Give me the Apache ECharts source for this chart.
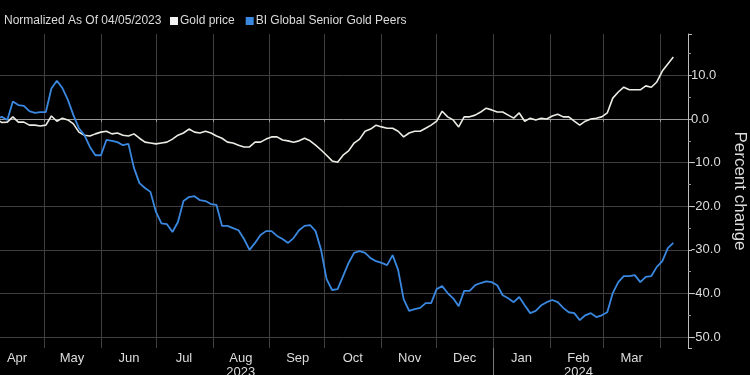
<!DOCTYPE html>
<html>
<head>
<meta charset="utf-8">
<script src="https://cdn.jsdelivr.net/npm/echarts@6/dist/echarts.min.js"></script>
<style>
  html, body { margin: 0; padding: 0; background: #000; }
  #chart { width: 750px; height: 375px; }
</style>
</head>
<body>
<div id="chart"></div>
<script>
// sample dates (every 3 days from the normalization date)
const dates = [
  '2023-04-05','2023-04-08','2023-04-11','2023-04-14','2023-04-17','2023-04-20','2023-04-23','2023-04-26','2023-04-29',
  '2023-05-02','2023-05-05','2023-05-08','2023-05-11','2023-05-14','2023-05-17','2023-05-20','2023-05-23','2023-05-26','2023-05-29',
  '2023-06-01','2023-06-04','2023-06-07','2023-06-10','2023-06-13','2023-06-16','2023-06-19','2023-06-22','2023-06-25','2023-06-28',
  '2023-07-01','2023-07-04','2023-07-07','2023-07-10','2023-07-13','2023-07-16','2023-07-19','2023-07-22','2023-07-25','2023-07-28','2023-07-31',
  '2023-08-03','2023-08-06','2023-08-09','2023-08-12','2023-08-15','2023-08-18','2023-08-21','2023-08-24','2023-08-27','2023-08-30',
  '2023-09-02','2023-09-05','2023-09-08','2023-09-11','2023-09-14','2023-09-17','2023-09-20','2023-09-23','2023-09-26','2023-09-29',
  '2023-10-02','2023-10-05','2023-10-08','2023-10-11','2023-10-14','2023-10-17','2023-10-20','2023-10-23','2023-10-26','2023-10-29',
  '2023-11-01','2023-11-04','2023-11-07','2023-11-10','2023-11-13','2023-11-16','2023-11-19','2023-11-22','2023-11-25','2023-11-28',
  '2023-12-01','2023-12-04','2023-12-07','2023-12-10','2023-12-13','2023-12-16','2023-12-19','2023-12-22','2023-12-25','2023-12-28','2023-12-31',
  '2024-01-03','2024-01-06','2024-01-09','2024-01-12','2024-01-15','2024-01-18','2024-01-21','2024-01-24','2024-01-27','2024-01-30',
  '2024-02-02','2024-02-05','2024-02-08','2024-02-11','2024-02-14','2024-02-17','2024-02-20','2024-02-23','2024-02-26','2024-02-29',
  '2024-03-03','2024-03-06','2024-03-09','2024-03-12','2024-03-15','2024-03-18','2024-03-21','2024-03-24','2024-03-27','2024-03-30',
  '2024-04-02','2024-04-05','2024-04-08'
];

const goldPrice = [
  0.0, -0.8, -0.7, 0.5, -0.7, -0.7, -1.4, -1.4, -1.6,
  -1.4, 0.7, -0.5, 0.2, -0.2, -1.1, -3.0, -3.7, -3.9, -3.4,
  -3.0, -2.8, -3.4, -3.2, -3.7, -3.9, -3.4, -4.4, -5.3, -5.5,
  -5.7, -5.5, -5.3, -4.6, -3.7, -3.2, -2.3, -3.0, -3.2, -2.8, -3.2,
  -3.9, -4.4, -5.3, -5.5, -6.0, -6.4, -6.4, -5.3, -5.3, -4.6,
  -4.1, -4.1, -4.8, -5.0, -5.3, -5.0, -4.4, -5.0, -6.0, -7.1,
  -8.3, -9.6, -9.9, -8.3, -7.3, -5.5, -4.6, -2.8, -2.3, -1.4,
  -1.8, -2.1, -2.1, -2.8, -4.1, -3.2, -2.8, -2.8, -2.1, -1.4,
  -0.5, 1.8, 0.5, -0.2, -1.8, 0.5, 0.5, 0.9, 1.6, 2.5, 2.1,
  1.6, 1.6, 0.9, 0.2, 1.4, -0.5, 0.2, -0.2, 0.2, 0.0,
  0.7, 1.1, 0.5, 0.5, -0.5, -1.4, -0.5, 0.0, 0.2, 0.5,
  1.4, 4.8, 6.2, 7.3, 6.7, 6.7, 6.7, 7.6, 7.3, 8.5,
  11.0, 12.6, 14.2
];

const goldPeers = [
  0.0, 0.5, -0.2, 4.0, 3.2, 3.0, 1.8, 1.4, 1.6,
  1.6, 7.0, 8.8, 7.1, 4.4, 0.9, -2.1, -3.7, -6.4, -8.3,
  -8.3, -4.8, -5.0, -5.3, -6.0, -5.7, -11.2, -14.7, -15.8, -16.7,
  -21.3, -23.9, -24.1, -25.9, -23.6, -18.8, -17.9, -17.7, -18.6, -18.8, -19.5,
  -19.7, -24.5, -24.5, -25.0, -25.5, -27.5, -30.0, -28.4, -26.6, -25.7,
  -25.7, -26.8, -27.5, -28.4, -27.3, -25.5, -24.5, -24.3, -25.7, -30.0,
  -36.7, -39.2, -39.0, -36.0, -33.0, -30.7, -30.3, -30.7, -31.9, -32.6,
  -33.0, -33.5, -31.2, -34.6, -41.3, -44.0, -43.6, -43.3, -42.2, -42.2,
  -39.0, -38.3, -39.9, -41.1, -42.9, -39.4, -39.4, -38.1, -37.6, -37.2, -37.4,
  -38.1, -40.4, -41.1, -42.0, -40.8, -42.7, -44.5, -44.0, -42.7, -42.0,
  -41.5, -42.0, -43.3, -44.3, -44.5, -46.1, -45.0, -44.5, -45.4, -45.0,
  -44.3, -39.9, -37.4, -36.0, -36.0, -35.8, -37.4, -36.2, -36.0, -33.9,
  -32.6, -29.6, -28.4
];

const monthNames = ['Jan','Feb','Mar','Apr','May','Jun','Jul','Aug','Sep','Oct','Nov','Dec'];
// year printed under the middle month of each year's span
const yearLabels = { '2023-7': '2023', '2024-1': '2024' };
const axisStart = '2023-04-01';
const axisEnd = '2024-04-16';

const chart = echarts.init(document.getElementById('chart'));
const DAY = 86400000;
const font = 'Liberation Sans, Arial, sans-serif';

const option = {
  backgroundColor: '#000',
  animation: false,
  textStyle: { fontFamily: font },
  title: {
    text: 'Normalized As Of 04/05/2023',
    left: 4,
    top: 15,
    padding: 0,
    textStyle: { color: '#dcdcdc', fontSize: 12, fontWeight: 'normal', fontFamily: font }
  },
  legend: {
    left: 170,
    top: 15,
    padding: 0,
    icon: 'rect',
    itemWidth: 8,
    itemHeight: 8,
    itemGap: 11,
    textStyle: { color: '#dcdcdc', fontSize: 12, padding: [0, 0, 0, -3] },
    data: ['Gold price', 'BI Global Senior Gold Peers']
  },
  grid: { left: -11, right: 62, top: 34, bottom: 27, containLabel: false, outerBoundsMode: 'none' },
  xAxis: {
    type: 'time',
    min: axisStart,
    max: axisEnd,
    splitNumber: 12,
    minInterval: 28 * DAY,
    maxInterval: 31 * DAY,
    axisLine: { show: true, lineStyle: { color: '#9a9a9a', width: 1 } },
    axisTick: { show: true, length: 3, lineStyle: { color: '#9a9a9a' } },
    splitLine: { show: true, lineStyle: { color: '#3f3f3f', width: 1 } },
    axisLabel: {
      color: '#dcdcdc',
      fontSize: 13,
      margin: 3,
      lineHeight: 14,
      align: 'center',
      verticalAlign: 'top',
      padding: [0, 0, 0, 56],
      hideOverlap: false,
      showMaxLabel: false,
      formatter: value => {
        const d = new Date(value);
        if (value + 15 * DAY >= +new Date(axisEnd)) return '';
        let txt = monthNames[d.getMonth()];
        const yl = yearLabels[d.getFullYear() + '-' + d.getMonth()];
        if (yl) txt += '\n' + yl;
        return txt;
      }
    }
  },
  yAxis: {
    type: 'value',
    position: 'right',
    min: -52.5,
    max: 19.5,
    minInterval: 10,
    maxInterval: 10,
    name: 'Percent change',
    nameLocation: 'middle',
    nameRotate: -90,
    nameGap: 39,
    nameTextStyle: { color: '#dcdcdc', fontSize: 17 },
    axisLine: { show: true, lineStyle: { color: '#bdbdbd', width: 1 } },
    axisTick: { show: true, length: 4, lineStyle: { color: '#bdbdbd' } },
    minorTick: { show: true, splitNumber: 2, length: 3, lineStyle: { color: '#9a9a9a' } },
    splitLine: { show: true, showMinLine: false, showMaxLine: false, lineStyle: { color: '#3f3f3f', width: 1 } },
    axisLabel: {
      color: '#dcdcdc',
      fontSize: 13,
      margin: 3,
      showMinLabel: false,
      showMaxLabel: false,
      formatter: v => v.toFixed(1)
    }
  },
  series: [
    {
      name: 'Gold price',
      type: 'line',
      data: dates.map((d, i) => [d, goldPrice[i]]),
      showSymbol: false,
      lineStyle: { color: '#ecebe4', width: 1.6 },
      itemStyle: { color: '#f2f2f2' }
    },
    {
      name: 'BI Global Senior Gold Peers',
      type: 'line',
      data: dates.map((d, i) => [d, goldPeers[i]]),
      showSymbol: false,
      lineStyle: { color: '#3a88e0', width: 1.8 },
      itemStyle: { color: '#3a88e0' }
    }
  ]
};

chart.setOption(option);

// year separator below the axis at Jan 1
const sepX = chart.convertToPixel({ xAxisIndex: 0 }, +new Date(2024, 0, 1));
chart.setOption({
  graphic: [{
    type: 'line',
    shape: { x1: sepX, y1: 348, x2: sepX, y2: 375 },
    style: { stroke: '#7a7a7a', lineWidth: 1 }
  }]
});
</script>
</body>
</html>
